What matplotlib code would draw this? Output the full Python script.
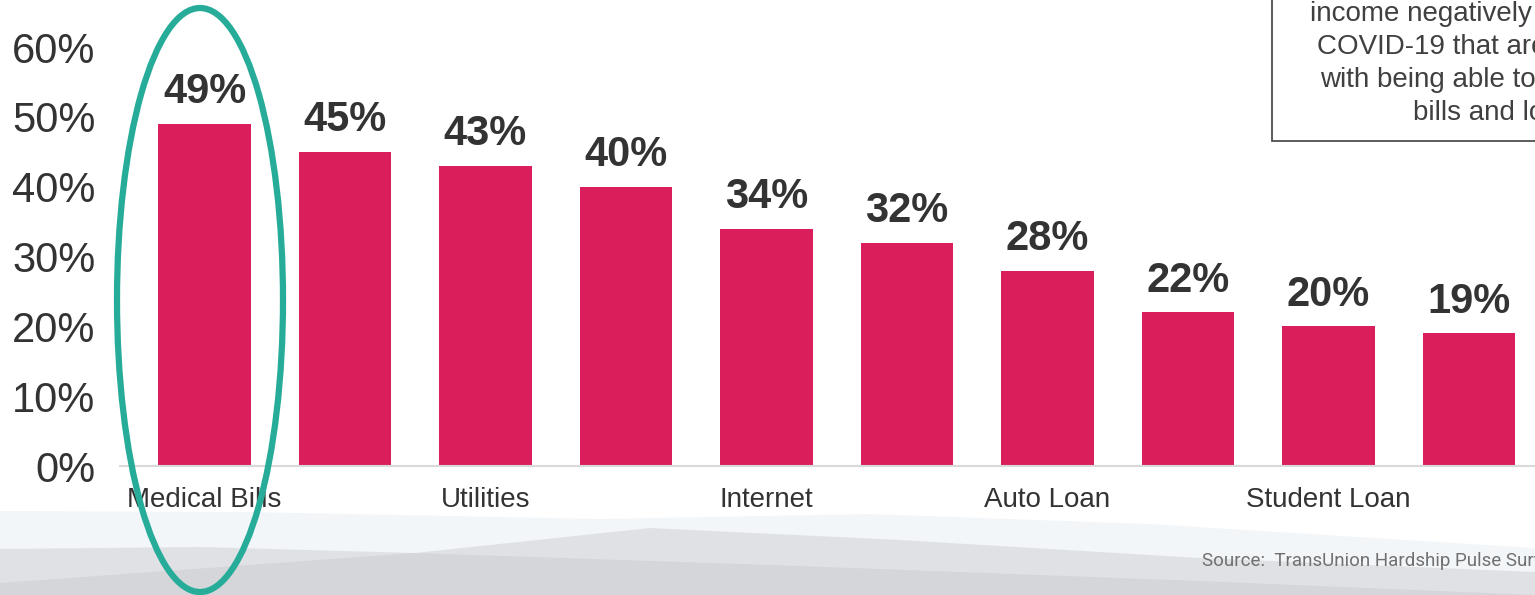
import matplotlib.pyplot as plt
from matplotlib.patches import Polygon, Rectangle, Ellipse

# hardship survey: share worried about paying each bill type
categories = ['Medical Bills', '', 'Utilities', '', 'Internet', '',
              'Auto Loan', '', 'Student Loan', '']
values = [49, 45, 43, 40, 34, 32, 28, 22, 20, 19]
yticks = [0, 10, 20, 30, 40, 50, 60]
note_lines = ['income negatively impacted by', 'COVID-19 that are concerned',
              'with being able to pay their', 'bills and loans']
source = 'Source:  TransUnion Hardship Pulse Survey'

W, H = 1535, 595
plt.rcParams['font.family'] = ['Liberation Sans', 'DejaVu Sans']
fig = plt.figure(figsize=(W / 100, H / 100), dpi=100)


def px(x, y):
    return (x / W, 1 - y / H)


def band(top, color, alpha=1.0):
    pts = [px(x, y) for x, y in top] + [px(W, H), px(0, H)]
    fig.add_artist(Polygon(pts, closed=True, transform=fig.transFigure,
                           facecolor=color, edgecolor='none', alpha=alpha,
                           zorder=-3))


# soft wave shapes along the bottom
band([(0, 511), (250, 512), (600, 519), (870, 514), (1150, 524), (1535, 548)], '#f3f6f9')
band([(0, 549), (200, 547), (415, 553), (800, 566), (1200, 581), (1535, 595)], '#c8c9cc', 0.45)
band([(0, 583), (415, 553), (650, 528), (900, 540), (1200, 558), (1535, 572)], '#c8c9cc', 0.45)

slot = 140.5
per_pct = 6.98
x0 = 204.5 - 0.6 * slot
ax = fig.add_axes([x0 / W, (H - 466) / H, 10.1 * slot / W, 466 / H])
ax.set_facecolor('none')

pos = list(range(len(values)))
ax.bar(pos, values, width=0.66, color='#da1e5b', zorder=2)
for p, v in zip(pos, values):
    ax.annotate(f'{v}%', (p, v), xytext=(0, 15), textcoords='offset points',
                ha='center', va='baseline', fontsize=30, fontweight='bold',
                color='#333333', annotation_clip=False)

ax.set_xlim(-0.6, 9.5)
ax.set_ylim(0, 466 / per_pct)
ax.set_xticks(pos)
ax.set_xticklabels(categories, fontsize=20, color='#333333')
ax.set_yticks(yticks)
ax.set_yticklabels([f'{t}%' for t in yticks], fontsize=30, color='#333333')
ax.tick_params(axis='x', length=0, pad=15)
ax.tick_params(axis='y', length=0, pad=18)
for s in ['top', 'right', 'left']:
    ax.spines[s].set_visible(False)
ax.spines['bottom'].set_color('#d9d9d9')
ax.spines['bottom'].set_linewidth(1.5)

# callout box in the upper right
fig.add_artist(Rectangle(px(1272, 141), 600 / W, 200 / H, transform=fig.transFigure,
                         facecolor='white', edgecolor='#404040', linewidth=1.2,
                         zorder=3))
starts = [1310, 1317, 1320, 1413]
ys = [14, 47, 80, 113]
for line, sx, sy in zip(note_lines, starts, ys):
    fig.text(*px(sx, sy), line, ha='left', va='center', fontsize=20,
             color='#404040', zorder=4)

fig.text(*px(1202, 561), source, ha='left', va='center', fontsize=13.5,
         color='#707070', family=['Roboto', 'DejaVu Sans'], zorder=4)

# highlight ring around the first bar
fig.add_artist(Ellipse(px(200, 300), 166 / W, 584 / H, transform=fig.transFigure,
                       facecolor='none', edgecolor='#26ac99', linewidth=4.5,
                       zorder=6))

fig.savefig('out.png', dpi=100)
